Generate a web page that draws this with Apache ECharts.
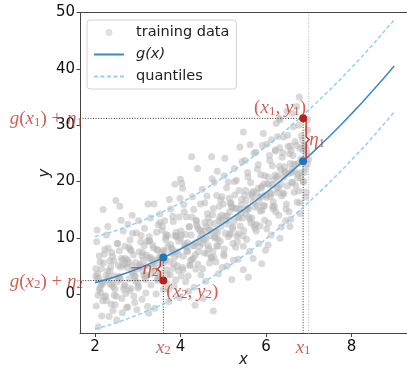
<!DOCTYPE html>
<html>
<head>
<meta charset="utf-8">
<script src="https://cdn.jsdelivr.net/npm/echarts@6/dist/echarts.min.js"></script>
<style>
html, body { margin: 0; padding: 0; background: #fff; }
#chart { width: 407px; height: 369px; }
</style>
</head>
<body>
<div id="chart"></div>
<script>
// Axis ticks
const xTicks = [2, 4, 6, 8];
const yTicks = [0, 10, 20, 30, 40, 50];

// Model curve g(x) and its quantile band
const curveX = [2, 2.25, 2.5, 2.75, 3, 3.25, 3.5, 3.75, 4, 4.25, 4.5, 4.75, 5, 5.25, 5.5, 5.75,
  6, 6.25, 6.5, 6.75, 7, 7.25, 7.5, 7.75, 8, 8.25, 8.5, 8.75, 9];
const curveG = [2.0, 2.53, 3.13, 3.78, 4.5, 5.28, 6.13, 7.03, 8.0, 9.03, 10.13, 11.28, 12.5, 13.78,
  15.13, 16.53, 18.0, 19.53, 21.13, 22.78, 24.5, 26.28, 28.13, 30.03, 32.0, 34.03, 36.13, 38.28, 40.5];
const upperQ = [10.2, 10.7, 11.3, 12.0, 12.7, 13.5, 14.3, 15.2, 16.2, 17.2, 18.3, 19.5, 20.7, 22.0,
  23.3, 24.7, 26.2, 27.7, 29.3, 31.0, 32.7, 34.5, 36.3, 38.2, 40.2, 42.2, 44.3, 46.5, 48.7];
const lowerQ = [-6.2, -5.7, -5.1, -4.4, -3.7, -2.9, -2.1, -1.2, -0.2, 0.8, 1.9, 3.1, 4.3, 5.6,
  6.9, 8.3, 9.8, 11.3, 12.9, 14.6, 16.3, 18.1, 19.9, 21.8, 23.8, 25.8, 27.9, 30.1, 32.3];

// Training data (x and y listed in matching order)
const trainX = [
  2.04, 2.05, 2.19, 2.10, 2.02, 2.15, 2.22, 2.16, 2.08, 2.12, 2.06, 2.20, 2.13, 2.03, 2.23, 2.09, 2.18,
  2.49, 2.27, 2.31, 2.44, 2.35, 2.29, 2.47, 2.38, 2.33, 2.41, 2.26, 2.45, 2.36, 2.30, 2.42, 2.39,
  2.58, 2.51, 2.66, 2.53, 2.71, 2.60, 2.55, 2.69, 2.63, 2.74, 2.57, 2.67, 2.52, 2.72, 2.61, 2.64, 2.70,
  2.98, 2.77, 2.82, 2.90, 2.79, 2.86, 2.95, 2.81, 2.93, 2.88, 2.76, 2.97, 2.84, 2.91, 2.80, 2.94, 2.87,
  3.24, 3.02, 3.08, 3.15, 3.21, 3.05, 3.12, 3.18, 3.01, 3.10, 3.23, 3.16, 3.04, 3.20, 3.07, 3.13, 3.19,
  3.38, 3.26, 3.40, 3.30, 3.44, 3.28, 3.47, 3.33, 3.36, 3.49, 3.31, 3.43, 3.27, 3.41, 3.46, 3.35, 3.48,
  3.74, 3.52, 3.58, 3.65, 3.71, 3.55, 3.62, 3.68, 3.51, 3.60, 3.73, 3.66, 3.54, 3.70, 3.57, 3.63, 3.69,
  3.87, 3.77, 3.83, 3.90, 3.96, 3.80, 3.86, 3.93, 3.76, 3.85, 3.98, 3.91, 3.79, 3.95, 3.82, 3.89, 3.99,
  4.03, 4.05, 4.00, 4.08, 4.14, 4.21, 4.02, 4.10, 4.17, 4.24, 4.06, 4.12, 4.19, 4.01, 4.15, 4.22, 4.09, 4.18,
  4.26, 4.40, 4.34, 4.28, 4.31, 4.37, 4.43, 4.46, 4.29, 4.35, 4.41, 4.48, 4.32, 4.38, 4.44, 4.27, 4.47, 4.36,
  4.73, 4.53, 4.51, 4.57, 4.63, 4.69, 4.54, 4.60, 4.66, 4.72, 4.52, 4.59, 4.65, 4.70, 4.56, 4.62, 4.68, 4.74,
  4.77, 4.79, 4.85, 4.91, 4.97, 4.80, 4.87, 4.93, 4.76, 4.83, 4.89, 4.95, 4.81, 4.88, 4.94, 4.78, 4.86, 4.98,
  5.04, 5.20, 5.02, 5.08, 5.14, 5.21, 5.06, 5.11, 5.17, 5.23, 5.01, 5.09, 5.15, 5.22, 5.03, 5.12, 5.18, 5.24,
  5.39, 5.47, 5.47, 5.26, 5.31, 5.37, 5.43, 5.28, 5.34, 5.40, 5.46, 5.29, 5.35, 5.42, 5.48, 5.27, 5.33, 5.44,
  5.63, 5.59, 5.70, 5.51, 5.57, 5.64, 5.71, 5.53, 5.60, 5.67, 5.74, 5.55, 5.62, 5.69, 5.52, 5.58, 5.65, 5.72,
  5.94, 5.90, 5.76, 5.82, 5.88, 5.95, 5.78, 5.84, 5.91, 5.97, 5.77, 5.83, 5.89, 5.96, 5.80, 5.86, 5.92, 5.99,
  6.13, 6.05, 6.24, 6.02, 6.08, 6.15, 6.21, 6.03, 6.10, 6.17, 6.23, 6.06, 6.12, 6.19, 6.01, 6.09, 6.16, 6.22,
  6.41, 6.33, 6.33, 6.49, 6.27, 6.32, 6.38, 6.44, 6.28, 6.35, 6.42, 6.48, 6.30, 6.36, 6.43, 6.26, 6.39, 6.46, 6.31,
  6.64, 6.62, 6.72, 6.56, 6.58, 6.51, 6.57, 6.63, 6.69, 6.53, 6.60, 6.66, 6.73, 6.54, 6.61, 6.68, 6.74, 6.59,
  6.78, 6.80, 6.77, 6.83, 6.89, 6.95, 6.76, 6.82, 6.88, 6.94, 6.79, 6.86, 6.92, 6.98, 6.81, 6.87, 6.93, 6.97,
  2.02, 2.07, 2.12, 2.17, 2.22, 2.27, 2.32, 2.37, 2.42, 2.47, 2.52, 2.57, 2.62, 2.67, 2.72, 2.77, 2.82, 2.87, 2.92, 2.97,
  3.02, 3.07, 3.12, 3.17, 3.22, 3.27, 3.32, 3.37, 3.42, 3.47, 3.52, 3.57, 3.62, 3.67, 3.72, 3.77, 3.82, 3.87, 3.92, 3.97,
  4.02, 4.07, 4.12, 4.17, 4.22, 4.27, 4.32, 4.37, 4.42, 4.47, 4.52, 4.57, 4.62, 4.67, 4.72, 4.77, 4.82, 4.87, 4.92, 4.97,
  5.02, 5.07, 5.12, 5.17, 5.22, 5.27, 5.32, 5.37, 5.42, 5.47, 5.52, 5.57, 5.62, 5.67, 5.72, 5.77, 5.82, 5.87, 5.92, 5.97,
  6.02, 6.07, 6.12, 6.17, 6.22, 6.27, 6.32, 6.37, 6.42, 6.47, 6.52, 6.57, 6.62, 6.67, 6.72, 6.77, 6.82, 6.87, 6.92, 6.97,
  2.05, 2.10, 2.15, 2.20, 2.25, 2.30, 2.35, 2.40, 2.45, 2.50, 2.55, 2.60, 2.65, 2.70, 2.75, 2.80, 2.85, 2.90, 2.95, 3.00,
  3.05, 3.10, 3.15, 3.20, 3.25, 3.30, 3.35, 3.40, 3.45, 3.50, 3.55, 3.60, 3.65, 3.70, 3.75, 3.80, 3.85, 3.90, 3.95, 4.00,
  4.05, 4.10, 4.15, 4.20, 4.25, 4.30, 4.35, 4.40, 4.45, 4.50, 4.55, 4.60, 4.65, 4.70, 4.75, 4.80, 4.85, 4.90, 4.95, 5.00,
  5.05, 5.10, 5.15, 5.20, 5.25, 5.30, 5.35, 5.40, 5.45, 5.50, 5.55, 5.60, 5.65, 5.70, 5.75, 5.80, 5.85, 5.90, 5.95, 6.00,
  6.05, 6.10, 6.15, 6.20, 6.25, 6.30, 6.35, 6.40, 6.45, 6.50, 6.55, 6.60, 6.65, 6.70, 6.75, 6.80, 6.85, 6.90, 6.95, 7.00
];
const trainY = [
  9.3, 11.4, 15.0, 6.8, 4.5, 2.0, -0.5, -3.9, -5.8, 1.2, 3.6, 5.5, 0.3, -2.1, 7.9, 2.8, -1.2,
  16.6, 10.5, 8.2, 5.9, 4.1, 2.5, 0.9, -1.8, -4.0, 6.7, 3.3, -0.2, 1.7, 12.0, -2.9, 7.4,
  15.6, -4.6, 11.2, 9.0, 6.3, 4.8, 3.0, 1.4, -0.8, -2.4, 7.7, 5.2, 2.2, 0.1, 13.1, -3.3, 8.5,
  -2.8, 12.4, 9.6, 7.0, 5.6, 3.9, 2.3, 0.6, -1.5, 10.8, 6.1, 4.4, 1.0, -0.4, 8.3, 3.1, 14.0,
  16.0, 13.0, 10.4, 8.6, 6.9, 5.3, 4.0, 2.6, 1.1, -0.9, -2.2, 11.7, 7.5, 3.4, 9.3, 6.0, 0.2,
  16.0, -3.4, -2.5, 13.5, 11.0, 9.4, 7.8, 6.2, 4.7, 3.2, 1.6, 0.0, 10.2, 5.4, 2.4, 8.7, 12.3,
  16.8, 14.2, 12.0, 10.1, 8.5, 7.1, 5.7, 4.3, 2.7, 0.8, -1.3, 9.6, 6.4, 3.5, 11.3, 13.0, 1.9,
  19.5, 15.1, 12.9, 11.0, 9.4, 8.0, 6.6, 5.0, 3.4, 1.5, -0.6, 10.3, 7.3, 4.2, 13.8, 2.5, 17.0,
  19.7, 18.8, 20.4, 15.9, 13.7, 12.0, 10.5, 9.0, 7.6, 6.0, 4.3, 2.2, 0.5, 11.2, 8.3, 5.1, 14.6, 3.2,
  24.4, 22.3, -2.0, 17.3, 15.0, 13.1, 11.5, 10.0, 8.6, 7.0, 5.3, 3.4, 1.2, 12.3, 9.2, 6.1, 16.0, 4.4,
  24.4, -0.8, 18.6, 16.2, 14.3, 12.7, 11.2, 9.8, 8.1, 6.4, 4.5, 2.3, 13.5, 10.4, 7.3, 17.4, 5.5, 20.5,
  -3.0, 19.8, 17.5, 15.6, 14.0, 12.5, 11.0, 9.4, 7.6, 5.7, 3.6, 13.2, 10.2, 8.5, 16.7, 6.6, 21.8, 4.7,
  24.1, 2.6, 21.0, 18.9, 17.0, 15.4, 13.9, 12.4, 10.8, 9.0, 7.1, 5.0, 14.6, 11.6, 8.0, 19.9, 16.2, 6.0,
  26.1, 28.8, 4.3, 22.3, 20.2, 18.4, 16.8, 15.2, 13.7, 12.1, 10.3, 8.3, 6.2, 14.5, 11.3, 17.6, 9.3, 23.5,
  26.5, 3.0, 6.3, 23.7, 21.6, 19.8, 18.2, 16.6, 15.1, 13.5, 11.7, 9.7, 7.6, 17.3, 14.3, 20.8, 12.6, 25.0,
  28.5, 5.4, 25.2, 23.0, 21.2, 19.6, 18.0, 16.5, 14.9, 13.1, 11.2, 9.0, 18.8, 15.7, 22.2, 12.1, 26.4, 7.8,
  27.4, 8.7, 30.3, 26.6, 24.6, 22.8, 21.1, 19.6, 18.0, 16.4, 14.6, 12.6, 10.5, 20.3, 17.2, 23.7, 15.5, 25.6,
  27.9, 30.9, 9.9, 32.4, 28.0, 26.0, 24.3, 22.6, 21.0, 19.5, 17.8, 16.0, 14.0, 11.9, 21.8, 18.7, 25.1, 13.0, 31.2,
  29.7, 32.1, 33.3, 12.0, 13.3, 28.2, 26.3, 24.6, 23.0, 21.4, 19.8, 18.1, 16.3, 14.6, 22.2, 27.1, 20.6, 25.5,
  35.0, 14.3, 30.0, 28.1, 26.4, 24.8, 23.2, 21.6, 19.9, 18.1, 16.2, 27.3, 22.4, 29.1, 20.7, 25.6, 17.2, 31.0,
  3.2, -0.2, 5.7, 1.7, 7.1, -1.2, 3.1, 4.9, 1.3, -1.9, 9.0, 3.1, 6.3, 0.9, 5.4, -2.3, 7.9, 5.0, 3.2, 10.9,
  1.4, 4.8, 7.4, 3.1, 9.4, 9.5, 3.6, 8.2, 6.0, 2.8, 12.7, 5.3, 7.5, 10.6, 0.8, 8.8, 4.6, 10.4, 7.5, 13.7,
  3.2, 6.7, 10.6, 9.1, 5.1, 13.7, 8.6, 13.0, 7.5, 11.2, 9.0, 12.7, 7.2, 11.6, 6.5, 15.2, 11.2, 9.8, 13.7, 17.3,
  6.8, 13.1, 10.2, 16.1, 11.9, 20.0, 10.3, 13.5, 15.8, 8.5, 18.4, 15.4, 13.3, 18.0, 12.2, 12.4, 18.8, 14.7, 17.4, 21.0,
  11.6, 19.5, 17.8, 15.1, 25.4, 18.0, 22.7, 17.4, 20.8, 15.1, 26.2, 23.2, 19.8, 21.8, 26.4, 18.3, 24.0, 20.1, 26.2, 23.1,
  2.7, 0.8, 4.5, 2.1, -0.3, 4.1, 5.9, 1.9, 3.2, -0.4, 5.1, 2.6, 6.1, 1.6, 4.7, 2.7, 7.7, 3.7, 5.6, 2.0,
  5.0, 6.8, 3.3, 5.0, 6.4, 6.5, 5.5, 4.1, 7.9, 6.5, 3.8, 7.8, 6.1, 10.4, 5.8, 8.1, 5.4, 10.2, 7.0, 9.9,
  4.7, 8.6, 7.6, 11.9, 10.5, 6.4, 9.1, 11.9, 8.5, 10.7, 9.7, 12.0, 8.6, 11.3, 14.1, 10.0, 8.6, 13.0, 12.0, 16.0,
  10.8, 13.8, 10.6, 15.5, 12.9, 15.2, 10.7, 15.1, 13.5, 17.6, 15.0, 13.7, 17.6, 16.3, 15.4, 15.7, 17.2, 19.1, 15.7, 17.6,
  20.8, 17.3, 19.4, 15.6, 20.7, 18.9, 22.1, 17.9, 21.6, 19.2, 24.9, 21.6, 23.1, 19.3, 21.3, 25.9, 23.7, 21.6, 25.5, 23.9
];

// Two highlighted samples: their inputs, targets and model values
const x1 = 6.87, y1 = 31.2, gx1 = 23.6;
const x2 = 3.6, y2 = 2.4, gx2 = 6.5;
const dataEdge = 7;

// Axis ranges
const xMin = 1.65, xMax = 9.3;
const yMin = -7, yMax = 50;

const RED = '#c0392b';
const RED_DOT = '#b8221c';
const BLUE_LINE = '#3b88c6';
const BLUE_DOT = '#1f77b4';
const Q_COLOR = '#93cff5';
const SANS = 'DejaVu Sans';
const SERIF = 'Liberation Serif';

// math-style rich text: italic symbols, upright digits, lowered subscripts
const mathRich = {
  i: { fontFamily: SERIF, fontStyle: 'italic', fontSize: 19, lineHeight: 20, color: RED, verticalAlign: 'middle' },
  r: { fontFamily: SERIF, fontSize: 19, lineHeight: 20, color: RED, verticalAlign: 'middle' },
  m: { fontFamily: 'DejaVu Serif', fontSize: 16, lineHeight: 20, color: RED, verticalAlign: 'middle' },
  s: { fontFamily: SERIF, fontSize: 13, lineHeight: 13, color: RED, verticalAlign: 'bottom' }
};

const chart = echarts.init(document.getElementById('chart'), null, { renderer: 'canvas' });

function pairs(xs, ys) { return xs.map((x, i) => [x, ys[i]]); }

function guide(points, color) {
  return {
    type: 'line', data: points, symbol: 'none', silent: true, z: 3,
    lineStyle: { color: color, width: 1, type: [1, 1.6] }, animation: false
  };
}

function note(value, text, labelOpt) {
  return {
    value: value,
    label: Object.assign({ show: true, formatter: text, rich: mathRich }, labelOpt)
  };
}

const option = {
  animation: false,
  grid: { left: 80, right: 0, top: 12.5, bottom: 35.5, outerBoundsMode: 'none', containLabel: false },
  legend: {
    left: 87, top: 20, orient: 'vertical',
    padding: [5, 7, 5, 6], itemGap: 7, itemWidth: 30, itemHeight: 7,
    borderColor: '#d3d3d3', borderWidth: 1, borderRadius: 3,
    backgroundColor: 'rgba(255,255,255,0.85)',
    textStyle: {
      fontFamily: SANS, fontSize: 14.5, color: '#222', padding: [0, 0, 0, 7],
      rich: { it: { fontFamily: SANS, fontStyle: 'italic', fontSize: 14.5, color: '#222' } }
    },
    formatter: name => name === 'g(x)' ? '{it|g(x)}' : name,
    data: [
      { name: 'training data', icon: 'circle', itemStyle: { color: '#c4c4c4' } },
      { name: 'g(x)', itemStyle: { opacity: 0 } },
      { name: 'quantiles', itemStyle: { opacity: 0 } }
    ]
  },
  xAxis: [{
    type: 'value', min: xMin, max: xMax,
    name: 'x', nameLocation: 'middle', nameGap: 19, nameMoveOverlap: false,
    nameTextStyle: { fontFamily: SANS, fontStyle: 'italic', fontSize: 15, color: '#222' },
    axisLine: { show: true, onZero: false, lineStyle: { color: '#444', width: 1 } },
    axisTick: { show: true, length: 3.5, customValues: xTicks, lineStyle: { color: '#444' } },
    axisLabel: { customValues: xTicks, margin: 6, fontFamily: SANS, fontSize: 15, color: '#111' },
    splitLine: { show: false }
  }, {
    type: 'value', position: 'top', min: xMin, max: xMax,
    axisLine: { show: true, onZero: false, lineStyle: { color: '#444', width: 1 } },
    axisTick: { show: false }, axisLabel: { show: false }, splitLine: { show: false }
  }],
  yAxis: {
    type: 'value', min: yMin, max: yMax,
    name: 'y', nameLocation: 'middle', nameGap: 27, nameRotate: 90, nameMoveOverlap: false,
    nameTextStyle: { fontFamily: SANS, fontStyle: 'italic', fontSize: 15, color: '#222' },
    axisLine: { show: true, onZero: false, lineStyle: { color: '#444', width: 1 } },
    axisTick: { show: true, length: 3.5, customValues: yTicks, lineStyle: { color: '#444' } },
    axisLabel: { customValues: yTicks, margin: 5, fontFamily: SANS, fontSize: 15, color: '#111' },
    splitLine: { show: false }
  },
  series: [
    {
      name: 'training data', type: 'scatter', data: pairs(trainX, trainY),
      symbolSize: 7, z: 1, silent: true,
      itemStyle: { color: '#b6b6b6', opacity: 0.52 }
    },
    {
      name: 'g(x)', type: 'line', data: pairs(curveX, curveG), symbol: 'none', z: 4,
      itemStyle: { color: BLUE_LINE }, lineStyle: { color: BLUE_LINE, width: 1.5 }
    },
    {
      name: 'quantiles', type: 'line', data: pairs(curveX, upperQ), symbol: 'none', z: 4,
      itemStyle: { color: Q_COLOR }, lineStyle: { color: Q_COLOR, width: 1.5, type: [4, 2.5] }
    },
    {
      name: 'quantiles', type: 'line', data: pairs(curveX, lowerQ), symbol: 'none', z: 4,
      itemStyle: { color: Q_COLOR }, lineStyle: { color: Q_COLOR, width: 1.5, type: [4, 2.5] }
    },
    // dotted guides from the axes to the highlighted samples
    guide([[xMin, y1], [x1, y1]], '#333'),
    guide([[x1, yMin], [x1, y1]], '#333'),
    guide([[xMin, y2], [x2, y2]], '#333'),
    guide([[x2, yMin], [x2, gx2]], '#333'),
    guide([[dataEdge, yMin], [dataEdge, yMax]], '#b5b5b5'),
    // residual brackets between target and model value
    {
      type: 'custom', z: 5, silent: true,
      data: [[x1, y1, gx1, 1], [x2, y2, gx2, -1]],
      renderItem: function (params, api) {
        const a = api.coord([api.value(0), api.value(1)]);
        const b = api.coord([api.value(0), api.value(2)]);
        const side = api.value(3);
        const x = a[0] + side * 3;
        const top = Math.min(a[1], b[1]) + 2, bot = Math.max(a[1], b[1]) - 2;
        const mid = (top + bot) / 2;
        return {
          type: 'polyline',
          shape: { points: [[x, top], [x, mid - 3], [x + side * 3, mid], [x, mid + 3], [x, bot]] },
          style: { stroke: RED, lineWidth: 1.5, fill: null }
        };
      }
    },
    {
      type: 'scatter', z: 6, symbolSize: 8, silent: true,
      itemStyle: { color: RED_DOT, opacity: 1 },
      data: [[x1, y1], [x2, y2]]
    },
    {
      type: 'scatter', z: 6, symbolSize: 8, silent: true,
      itemStyle: { color: BLUE_DOT, opacity: 1 },
      data: [[x1, gx1], [x2, gx2]]
    },
    // annotation text, drawn on its own layer above the axis labels
    {
      type: 'scatter', zlevel: 1, z: 7, symbolSize: 0, silent: true, clip: false,
      data: [
        note([xMin, y1], '{i|g}{r|(}{i|x}{s|1}{r|) + }{i|η}{s|1}', { position: 'left', distance: 0, offset: [3, 1] }),
        note([xMin, y2], '{i|g}{r|(}{i|x}{s|2}{r|) + }{i|η}{s|2}', { position: 'left', distance: 0, offset: [3, 1] }),
        note([x1, y1], '{r|(}{i|x}{s|1}{r|, }{i|y}{s|1}{r|)}', { position: 'top', distance: 0, offset: [-23, 0] }),
        note([x2, y2], '{r|(}{i|x}{s|2}{r|, }{i|y}{s|2}{r|)}', { position: 'right', distance: 3, offset: [0, 11] }),
        note([x1, (y1 + gx1) / 2], '{i|η}{s|1}', { position: 'right', distance: 6 }),
        note([x2, (y2 + gx2) / 2], '{m|−}{i|η}{s|2}', { position: 'left', distance: 5 }),
        note([x1, yMin], '{i|x}{s|1}', { position: 'bottom', distance: 4 }),
        note([x2, yMin], '{i|x}{s|2}', { position: 'bottom', distance: 4 })
      ]
    }
  ]
};

chart.setOption(option);
</script>
</body>
</html>
